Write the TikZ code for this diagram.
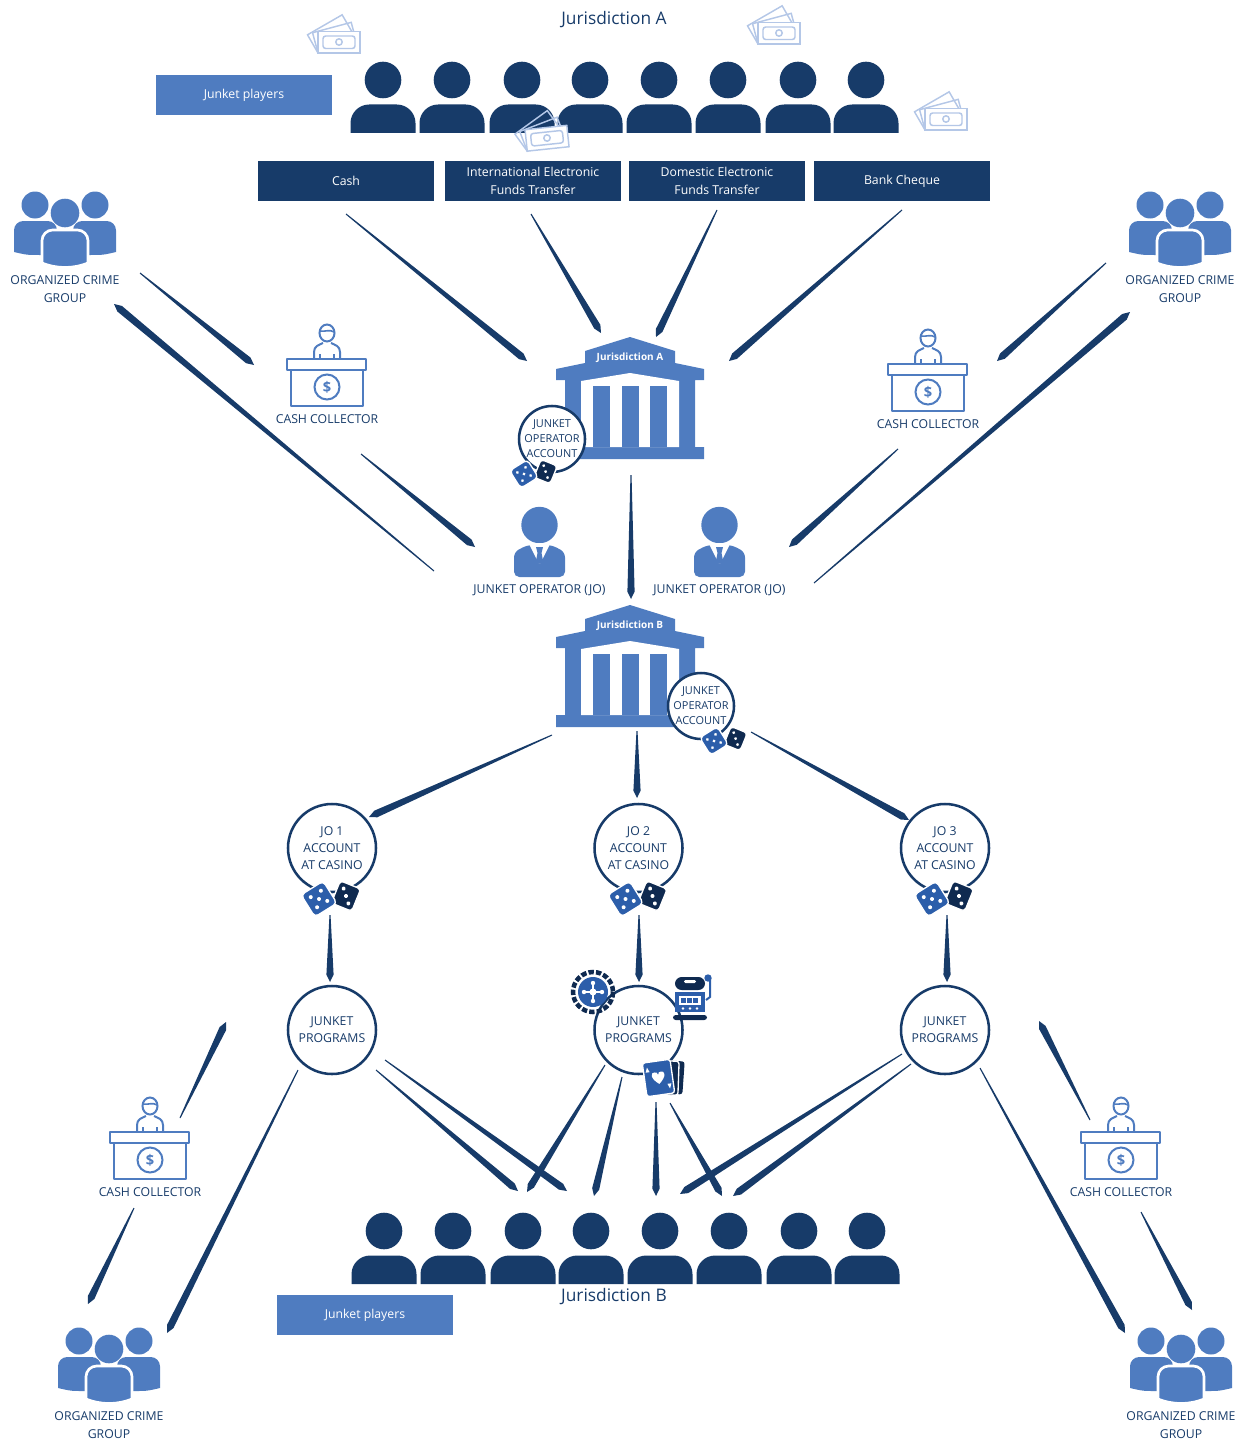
\documentclass[tikz,border=0pt]{standalone}
\usepackage{fontspec}
\setmainfont{Open Sans}
\usetikzlibrary{calc,shapes.geometric}
\definecolor{navy}{HTML}{173B69}
\definecolor{steel}{HTML}{4F7CC0}
\definecolor{pale}{HTML}{B4C7E7}
\definecolor{inkdark}{HTML}{0F2A50}
\definecolor{diceblue}{HTML}{2C5EAA}
\tikzset{
	x=0.75pt,y=-0.75pt,
	txt/.style={text=navy,align=center,inner sep=0pt,font=\fontsize{9.2}{13}\selectfont},
	bigtxt/.style={text=navy,inner sep=0pt,font=\fontsize{13}{16}\selectfont},
	banktxt/.style={text=white,inner sep=0pt,font=\fontsize{7.5}{9}\selectfont\bfseries},
	playersbox/.style={fill=steel,text=white,inner sep=0pt,minimum width=132pt,minimum height=30pt,font=\fontsize{9.2}{13}\selectfont},
	methodbox/.style={fill=navy,text=white,align=center,inner sep=0pt,minimum width=132pt,minimum height=30pt,font=\fontsize{9.2}{13}\selectfont},
	ring/.style={circle,draw=navy,line width=1.9pt,fill=white,inner sep=0pt,minimum size=66pt},
	smallring/.style={circle,draw=navy,line width=1.9pt,fill=white,inner sep=0pt,minimum size=49.5pt},
	pics/player/.style={code={
		\fill[navy] (0,0) circle (18.3);
		\fill[navy] (-32.5,53) [rounded corners=14pt] -- (-32.5,24.5) -- (32.5,24.5) [sharp corners] -- (32.5,53) -- cycle;
	}},
	pics/crowd/.style={code={
		\fill[steel] (-30,-8) circle (13.5) (30,-8) circle (13.5);
		\foreach \s in {-1,1} \fill[steel] (\s*51,39) [rounded corners=7pt] -- (\s*51,8) -- (\s*8,8) [sharp corners] -- (\s*8,42) -- (\s*25,42) .. controls (\s*38,42) .. cycle;
		\fill[steel] (0,0) circle (14.3);
		\draw[white,line width=2pt,fill=steel] (-23,50) [rounded corners=8pt] -- (-23,17) -- (23,17) [sharp corners] -- (23,50) .. controls (8,56) and (-8,56) .. cycle;
	}},
	pics/bank/.style={code={
		\fill[steel] (0,0) -- (45,14) -- (45,26) -- (74,32) -- (74,43) -- (65,43) -- (65,110) -- (74,110) -- (74,122) -- (-74,122) -- (-74,110) -- (-65,110) -- (-65,43) -- (-74,43) -- (-74,32) -- (-45,26) -- (-45,14) -- cycle;
		\fill[white] (-49,44) -- (0,36) -- (49,44) -- (49,110) -- (-49,110) -- cycle;
		\foreach \x in {-37,-8,20} \fill[steel] (\x,49) rectangle +(17,61);
	}},
	pics/collector/.style={code={
		\draw[steel,line width=1.5pt,line join=round] (-40,-28) rectangle (39,-17);
		\draw[steel,line width=1.5pt,line join=round] (-36,-17) rectangle (36,19);
		\draw[steel,line width=1.5pt] (0,0) circle (12.5);
		\node[text=steel,inner sep=0pt,font=\fontsize{11}{11}\selectfont\bfseries] at (0,0) {\$};
		\draw[steel,line width=1.5pt] (0,-54) ellipse (7.5 and 8.5);
		\draw[steel,line width=1.2pt] (-7,-56) .. controls (-2,-55) and (3,-58) .. (7,-55);
		\draw[steel,line width=1.5pt] (-13,-28) -- (-13,-35) .. controls (-13,-41) and (-8,-42) .. (-4,-44) (13,-28) -- (13,-35) .. controls (13,-41) and (8,-42) .. (4,-44);
		\draw[steel,line width=1.2pt] (-7,-28) -- (-7,-33) (7,-28) -- (7,-33);
	}},
	pics/operator/.style={code={
		\fill[steel] (0,0) circle (18.2);
		\fill[steel,rounded corners=4pt] (-25.5,52) -- (-25.5,27) -- (-12,20) -- (12,20) -- (25.5,27) -- (25.5,52) -- cycle;
		\fill[white] (-11,18) -- (-1,38) -- (1,38) -- (11,18) -- cycle;
		\fill[steel] (-3.5,22) -- (3.5,22) -- (2,28) -- (4,38) -- (-4,38) -- (-2,28) -- cycle;
	}},
	pics/money/.style={code={
		\foreach \a in {30,15} \draw[pale,line width=1.1pt,rotate around={\a:(-21,11)}] (-21,11) rectangle +(40,-21);
		\draw[pale,line width=1.1pt,fill=white] (-21,-10.5) rectangle (21,11);
		\draw[pale,line width=1.1pt,rounded corners=2pt] (-16,-6) rectangle (16,6.5);
		\draw[pale,line width=1.1pt] (0,0) circle (3.2);
	}},
	pics/dicepair/.style={code={
		\begin{scope}[shift={(27,-3)},rotate=-22]
			\draw[white,line width=1pt,fill=inkdark,rounded corners=2.5pt] (-11,-12) rectangle (11,12);
			\foreach \x/\y in {-5/-6,0/0,5/6} \fill[white] (\x,\y) circle (2);
		\end{scope}
		\begin{scope}[rotate=32]
			\draw[white,line width=1pt,fill=diceblue,rounded corners=3pt] (-13,-13) rectangle (13,13);
			\foreach \x/\y in {-6/-6,6/-6,0/0,-6/6,6/6} \fill[white] (\x,\y) circle (2);
		\end{scope}
	}},
	pics/chip/.style={code={
		\draw[inkdark,line width=3.4pt,dash pattern=on 4pt off 1.6pt] (0,0) circle (20);
		\fill[diceblue] (0,0) circle (15);
		\foreach \a in {0,90,180,270} {
			\draw[white,line width=1.5pt,rotate=\a] (0,0) -- (9,0);
			\fill[white,rotate=\a] (9,0) circle (2.2);
		}
		\fill[white] (0,0) circle (3.5);
	}},
	pics/slot/.style={code={
		\fill[inkdark,rounded corners=5pt] (-15,-7) -- (-15,-20) -- (15,-20) -- (15,-7) -- cycle;
		\fill[white,rounded corners=1pt] (-6,-17) rectangle (6,-14);
		\fill[diceblue] (-15,-5) rectangle (15,15);
		\fill[white] (-11,-1) rectangle (11,8);
		\foreach \x in {-9,-3,3} \fill[diceblue] (\x,1) rectangle +(5,5);
		\foreach \x in {-7,0,7} \fill[white] (\x,11.5) circle (1.3);
		\fill[inkdark,rounded corners=2pt] (-17,18) rectangle (17,23);
		\draw[diceblue,line width=1.5pt] (20,-19) -- (20,0) -- (16,3);
		\fill[diceblue] (18,-19) circle (3.7);
	}},
	pics/cards/.style={code={
		\fill[inkdark,rotate around={-4:(18,0)},rounded corners=2pt] (6,-17) rectangle (25,16);
		\draw[white,line width=1pt,fill=inkdark,rotate around={-2:(12,0)},rounded corners=2pt] (0,-17) rectangle (20,17);
		\begin{scope}[rotate=8]
			\draw[white,line width=1pt,fill=diceblue,rounded corners=2pt] (-14,-17) rectangle (14,17);
			\fill[white] (0,6) .. controls (-9,-1) and (-7,-7) .. (-3,-6) .. controls (-1,-6) .. (0,-3) .. controls (1,-6) .. (3,-6) .. controls (7,-7) and (9,-1) .. cycle;
			\fill[white] (-10,-12) -- (-8,-7) -- (-12,-7) -- cycle (10,12) -- (8,7) -- (12,7) -- cycle;
		\end{scope}
	}},
}
\begin{document}
\begin{tikzpicture}
	\useasboundingbox (0,0) rectangle (1246,1441);
	\foreach \x in {383,452,522,590,659,728,798,866} \pic at (\x,80) {player};
	\foreach \x in {384,453,523,591,660,729,799,867} \pic at (\x,1231) {player};
	\foreach \x/\y in {339/42,779/33,946/119} \pic at (\x,\y) {money};
	\pic[rotate=6] at (547,138) {money};
	\node[bigtxt] (titlea) at (614,20) {Jurisdiction A};
	\node[bigtxt] (titleb) at (614,1297) {Jurisdiction B};
	\node[playersbox] (playersa) at (244,95) {Junket players};
	\node[playersbox] (playersb) at (365,1315) {Junket players};
	\node[methodbox] (cash) at (346,181) {Cash};
	\node[methodbox] (intl) at (533,181) {International Electronic\\Funds Transfer};
	\node[methodbox] (dom) at (717,181) {Domestic Electronic\\Funds Transfer};
	\node[methodbox] (cheque) at (902,181) {Bank Cheque};
	\foreach \x/\y [count=\i] in {65/213,1180/213,109/1349,1181/1349} {
		\pic at (\x,\y) {crowd};
		\node[txt] (crime\i) at (\x,\y+76) {ORGANIZED CRIME\\GROUP};
	}
	\foreach \x/\y [count=\i] in {327/387,928/392,150/1160,1121/1160} {
		\pic at (\x,\y) {collector};
		\node[txt] (collector\i) at (\x,\y+32) {CASH COLLECTOR};
	}
	\foreach \x [count=\i] in {539.5,719.5} {
		\pic at (\x,525) {operator};
		\node[txt] (jo\i) at (\x,590) {JUNKET OPERATOR (JO)};
	}
	\pic at (630,337) {bank};
	\pic at (630,605) {bank};
	\node[banktxt] (banka) at (630,358) {Jurisdiction A};
	\node[banktxt] (bankb) at (630,626) {Jurisdiction B};
	\node[smallring] (acca) at (552,439) {};
	\node[smallring] (accb) at (701,706) {};
	\node[txt,font=\fontsize{8.2}{11.2}\selectfont] at (acca) {JUNKET\\OPERATOR\\ACCOUNT};
	\node[txt,font=\fontsize{8.2}{11.2}\selectfont] at (accb) {JUNKET\\OPERATOR\\ACCOUNT};
	\pic[scale=.8] at (524,474) {dicepair};
	\pic[scale=.8] at (714,741) {dicepair};
	\foreach \x [count=\i] in {332,638.5,945} {
		\node[ring] (acc\i) at (\x,848) {};
		\node[txt] at (acc\i) {JO \i\\ACCOUNT\\AT CASINO};
		\pic at (\x-13,899) {dicepair};
		\node[ring] (prog\i) at (\x,1030) {};
		\node[txt] at (prog\i) {JUNKET\\PROGRAMS};
	}
	\pic at (593,992) {chip};
	\pic at (690,997) {slot};
	\pic at (658.5,1078) {cards};
	\foreach \x/\y/\u/\v [count=\i] in {
		346/214/527/361, 531/214/601/333, 717/210/656/337, 902/210/729/361,
		140/273/254/365, 434/571/114/304, 361/454/475/547,
		1106/263/997/361, 814/583/1130/312, 898/449/789/547,
		631/475/631/599, 552/735/369/817, 637/731/637/798, 751/732/909/820,
		330/915/330/982, 639/915/639/982, 947/915/947/982,
		180/1118/226/1022, 134/1208/88/1304, 298/1070/167/1333,
		385/1060/567/1191, 376/1070/518/1191, 605/1065/527/1192, 622/1077/594/1196,
		656/1102/656/1196, 670/1103/722/1196, 902/1054/680/1194, 911/1064/733/1196,
		980/1068/1125/1333, 1090/1120/1039/1021, 1141/1212/1192/1310} {
		\coordinate (f\i) at (\x,\y);
		\coordinate (t\i) at (\u,\v);
		\fill[navy] ($(f\i)!0.4pt!90:(t\i)$) -- ($(t\i)!5.5pt!(f\i)!2.7pt!-90:(f\i)$) -- (t\i) -- ($(t\i)!5.5pt!(f\i)!2.7pt!90:(f\i)$) -- ($(f\i)!0.4pt!-90:(t\i)$) -- cycle;
	}
\end{tikzpicture}
\end{document}
